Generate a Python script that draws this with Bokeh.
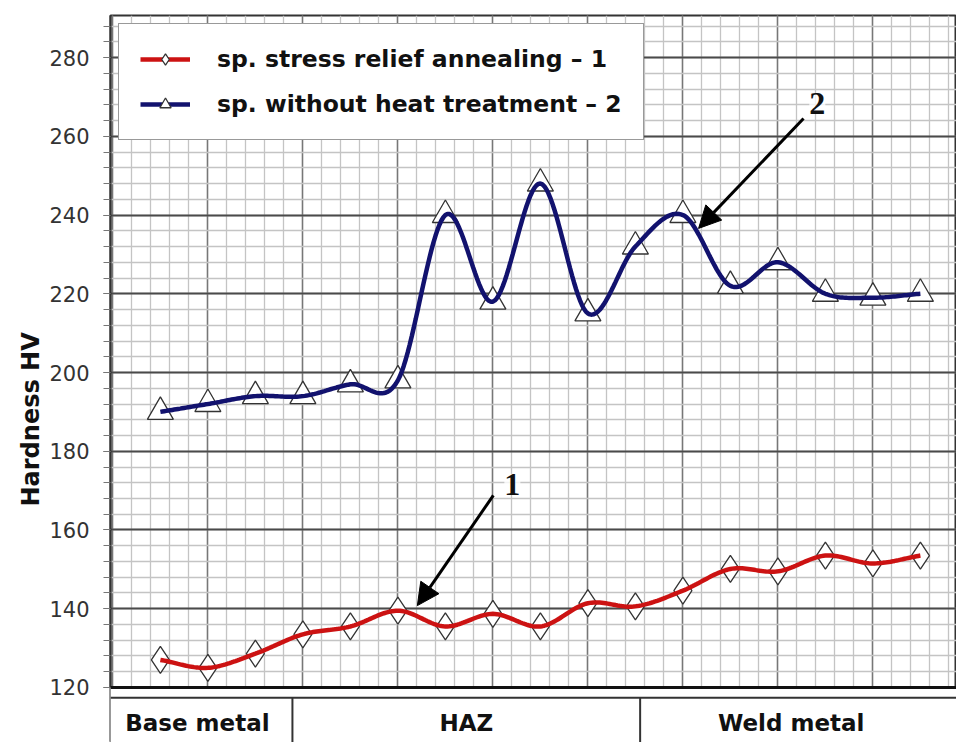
from bokeh.plotting import figure
from bokeh.models import (Range1d, SingleIntervalTicker, Grid, Legend, LegendItem,
                          Arrow, NormalHead, Label, Span, Title)
from bokeh.core.properties import value
from bokeh.embed import file_html
from bokeh.resources import INLINE

# ---------------- data ----------------
positions = list(range(1, 18))
annealed_hv = [127, 125, 128.6, 133.5, 135.5, 139.5, 135.5, 138.7, 135.5, 141.4,
               140.6, 144.6, 150.1, 149.5, 153.5, 151.5, 153.5]
as_welded_hv = [190, 192, 194, 194, 197, 198, 240, 218, 248, 215,
                232, 240, 222, 228, 220, 219, 220]
series_labels = ["sp. stress relief annealing \u2013 1", "sp. without heat treatment \u2013 2"]
zones = ["Base metal", "HAZ", "Weld metal"]
zone_centers = [1.78, 7.44, 14.28]
zone_dividers = [3.78, 11.1]
y_label = "Hardness HV"


def smooth(xs, ys, n=24):
    """Cubic Hermite (Catmull-Rom) curve through the points, as a smoothed line."""
    m = len(ys)
    ox, oy = [], []
    for i in range(m - 1):
        y0, y1 = ys[i], ys[i + 1]
        m0 = (ys[i + 1] - ys[i - 1]) / 2 if i > 0 else (ys[1] - ys[0])
        m1 = (ys[i + 2] - ys[i]) / 2 if i + 2 < m else (ys[-1] - ys[-2])
        x0, x1 = xs[i], xs[i + 1]
        for k in range(n):
            t = k / n
            h00 = 2 * t**3 - 3 * t**2 + 1
            h10 = t**3 - 2 * t**2 + t
            h01 = -2 * t**3 + 3 * t**2
            h11 = t**3 - t**2
            ox.append(x0 + (x1 - x0) * t)
            oy.append(h00 * y0 + h10 * m0 + h01 * y1 + h11 * m1)
    ox.append(xs[-1])
    oy.append(ys[-1])
    return ox, oy


p = figure(width=956, height=742, output_backend="svg", toolbar_location=None,
           x_range=Range1d(-0.05, 17.76), y_range=Range1d(106.03, 290.67),
           x_axis_location=None, y_axis_location="left",
           min_border_left=110, min_border_right=0, min_border_top=15, min_border_bottom=0)
p.background_fill_color = "white"
p.border_fill_color = "white"
p.outline_line_color = "#333333"
p.outline_line_width = 2

# remove default grids, add own
p.center = [r for r in p.center if not isinstance(r, Grid)]
yt = SingleIntervalTicker(interval=20, num_minor_ticks=5)
xt = SingleIntervalTicker(interval=2, num_minor_ticks=5)
xgrid = Grid(dimension=0, ticker=xt, grid_line_color="#777777", grid_line_width=1.5,
             minor_grid_line_color="#c4c4c4", minor_grid_line_width=1.3)
ygrid = Grid(dimension=1, ticker=yt, bounds=(120, 291), grid_line_color="#4a4a4a",
             grid_line_width=2, minor_grid_line_color="#c4c4c4", minor_grid_line_width=1.3)
p.add_layout(xgrid, "center")
p.add_layout(ygrid, "center")

ax = p.yaxis[0]
ax.ticker = yt
ax.bounds = (120, 291)
ax.axis_line_color = "#333333"
ax.axis_line_width = 2
ax.major_tick_out = 7
ax.major_tick_in = 0
ax.minor_tick_out = 7
ax.minor_tick_in = 0
ax.major_tick_line_color = "#555555"
ax.minor_tick_line_color = "#777777"
ax.major_label_standoff = 14
ax.major_label_text_font = "DejaVu Sans"
ax.major_label_text_font_size = "21px"
ax.major_label_text_color = "#333333"

# y title, placed as a side title so it can sit lower than the frame centre
p.add_layout(Title(text=y_label, align="left", offset=236, text_font="DejaVu Sans",
                   text_font_style="bold", text_font_size="24px", text_color="#111111",
                   standoff=4), "left")

# white band below the chart (covers grid), table of zones
p.quad(left=-1, right=20, bottom=100, top=120, fill_color="white", line_color=None)
p.segment(x0=zone_dividers, x1=zone_dividers, y0=[117.4] * 2, y1=[100] * 2,
          line_color="#333333", line_width=2)
p.add_layout(Span(location=117.4, dimension="width", line_color="#333333", line_width=2))
p.add_layout(Span(location=120, dimension="width", line_color="#111111", line_width=3))
p.text(x=zone_centers, y=[111.1] * 3, text=zones, text_font=value("DejaVu Sans"),
       text_font_style="bold", text_font_size="23px", text_align="center",
       text_baseline="middle", text_color="#111111")

# series
red_m = p.scatter(positions, annealed_hv, marker="diamond", size=27, fill_color="white",
                  line_color="#333333", line_width=1.3)
blue_m = p.scatter(positions, as_welded_hv, marker="triangle", size=26, fill_color="white",
                   line_color="#333333", line_width=1.3)
rx, ry = smooth(positions, annealed_hv)
bx, by = smooth(positions, as_welded_hv)
red_l = p.line(rx, ry, line_color="#cc1212", line_width=4.5)
blue_l = p.line(bx, by, line_color="#12126e", line_width=4.5)

legend = Legend(items=[LegendItem(label=series_labels[0], renderers=[red_l, red_m]),
                       LegendItem(label=series_labels[1], renderers=[blue_l, blue_m])],
                location="top_left", margin=8, padding=21, spacing=17,
                glyph_width=50, glyph_height=28, label_standoff=27,
                label_text_font="DejaVu Sans", label_text_font_style="bold",
                label_text_font_size="23.5px", label_text_color="#111111",
                border_line_color="#333333", border_line_width=1.5,
                background_fill_color="white", background_fill_alpha=1.0)
p.add_layout(legend)

# arrows and numbers
head = dict(size=22, fill_color="black", line_color="black")
p.add_layout(Arrow(end=NormalHead(**head), x_start=8.01, y_start=168.8, x_end=6.41, y_end=140.8,
                   line_color="black", line_width=3))
p.add_layout(Arrow(end=NormalHead(**head), x_start=14.54, y_start=264.5, x_end=12.33, y_end=236.6,
                   line_color="black", line_width=3))
for txt, lx, ly in [("1", 8.41, 171.6), ("2", 14.83, 268.3)]:
    p.add_layout(Label(x=lx, y=ly, text=txt, text_font="Liberation Serif", text_font_style="bold",
                       text_font_size="32px", text_align="center", text_baseline="middle",
                       text_color="#111111", background_fill_color="white",
                       background_fill_alpha=0.8))

open("out.html", "w").write(file_html(p, INLINE))
